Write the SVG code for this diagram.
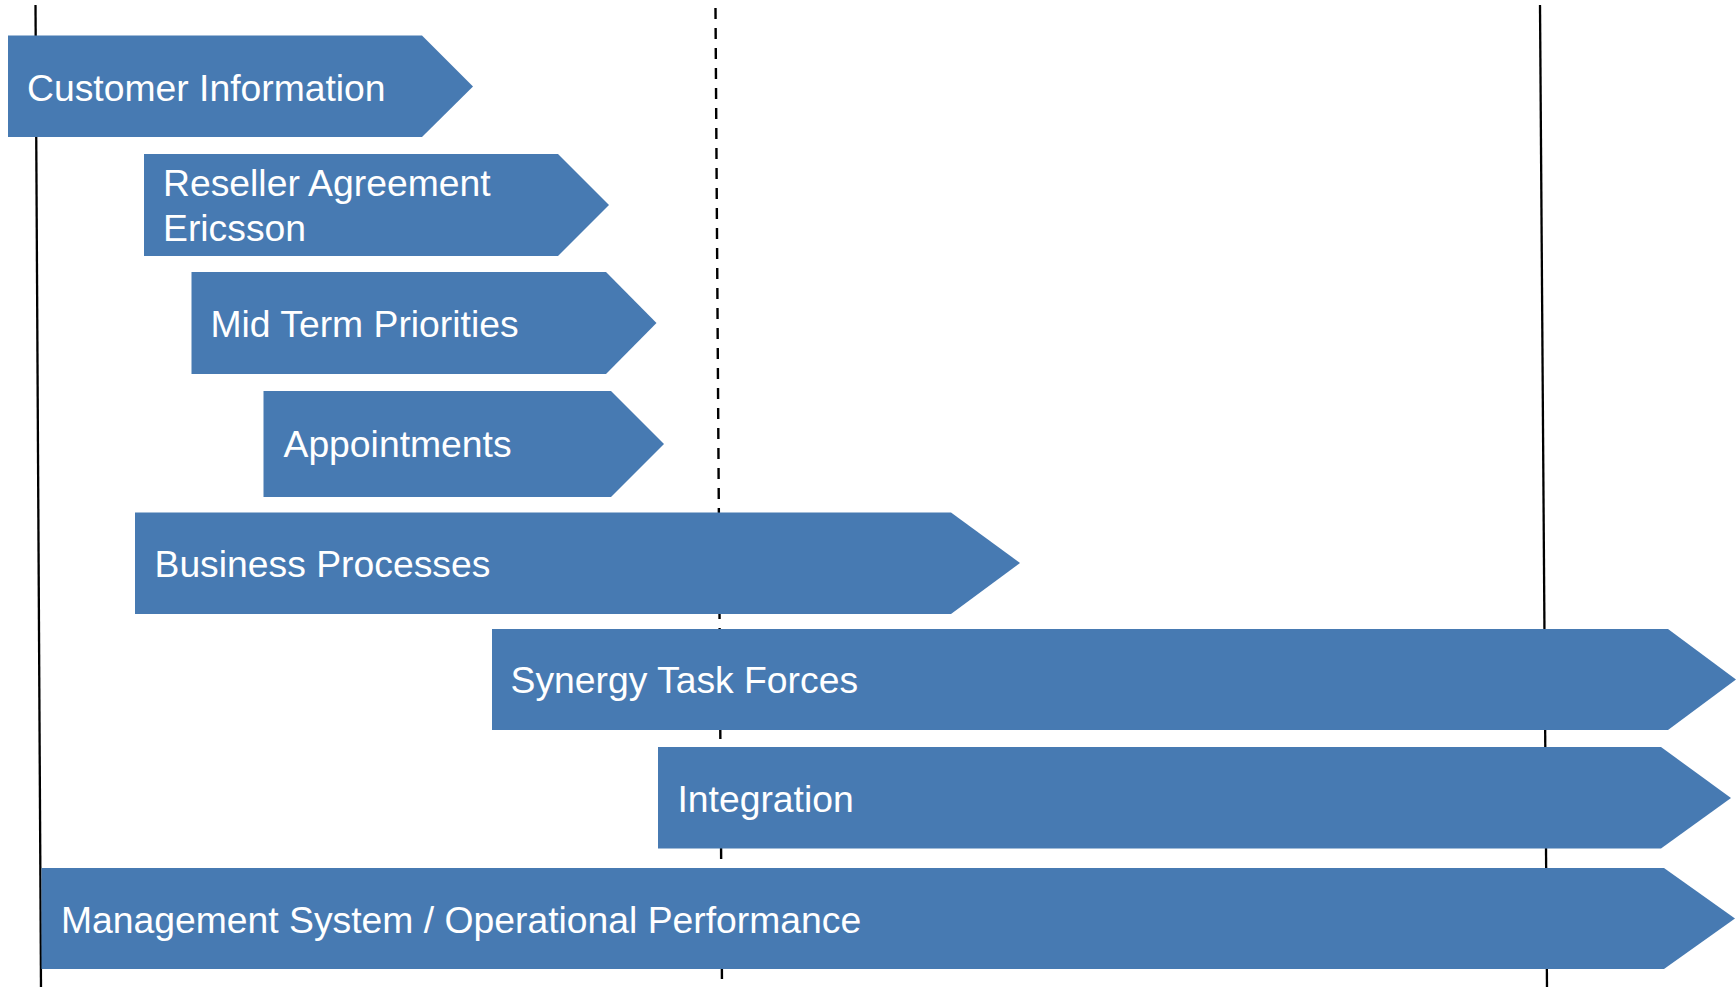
<svg xmlns="http://www.w3.org/2000/svg" width="1736" height="987" viewBox="0 0 1736 987">
  <defs>
    <style>
      .bar { fill: #477AB2; }
      .lbl { fill: #FFFFFF; font-family: "Liberation Sans", Arial, sans-serif; font-size: 37.3px; }
      .rule { stroke: #000000; stroke-width: 2.3; fill: none; }
      .rule-dash { stroke: #000000; stroke-width: 2.4; fill: none; stroke-dasharray: 11 9; }
    </style>
  </defs>
  <rect x="0" y="0" width="1736" height="987" fill="#FFFFFF"/>

  <!-- timeline markers -->
  <g id="connectors">
    <line class="rule" x1="35.5" y1="5" x2="41" y2="987"/>
    <line class="rule-dash" x1="715.5" y1="8" x2="722" y2="987"/>
    <line class="rule" x1="1540" y1="5" x2="1547" y2="987"/>
  </g>

  <g id="customer-information">
    <polygon class="bar" points="8,35.5 422,35.5 473,86.5 422,137 8,137"/>
    <text class="lbl" x="27" y="101">Customer Information</text>
  </g>

  <g id="reseller-agreement">
    <polygon class="bar" points="144,154 558,154 609,205 558,256 144,256"/>
    <text class="lbl" x="163" y="196">Reseller Agreement</text>
    <text class="lbl" x="163" y="240.5">Ericsson</text>
  </g>

  <g id="mid-term-priorities">
    <polygon class="bar" points="191.5,272 606,272 656.5,323 606,374 191.5,374"/>
    <text class="lbl" x="210.5" y="337">Mid Term Priorities</text>
  </g>

  <g id="appointments">
    <polygon class="bar" points="263.5,391 611,391 664,444 611,497 263.5,497"/>
    <text class="lbl" x="283.5" y="457">Appointments</text>
  </g>

  <g id="business-processes">
    <polygon class="bar" points="135,512.5 951,512.5 1020,563 951,614 135,614"/>
    <text class="lbl" x="154.5" y="577">Business Processes</text>
  </g>

  <g id="synergy-task-forces">
    <polygon class="bar" points="492,629 1668,629 1736,679.5 1668,730 492,730"/>
    <text class="lbl" x="510.5" y="693">Synergy Task Forces</text>
  </g>

  <g id="integration">
    <polygon class="bar" points="658,747 1661,747 1731,798 1661,848.5 658,848.5"/>
    <text class="lbl" x="677.5" y="811.5">Integration</text>
  </g>

  <g id="management-system">
    <polygon class="bar" points="41.5,868 1664,868 1735,918.5 1664,969 41.5,969"/>
    <text class="lbl" x="61" y="932.5">Management System / Operational Performance</text>
  </g>
</svg>
